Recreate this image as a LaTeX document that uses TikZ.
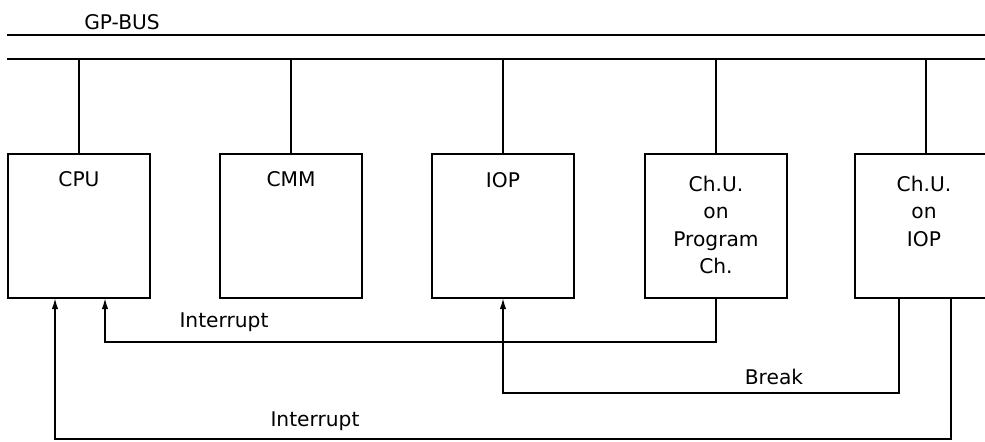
\documentclass[tikz,border=0pt]{standalone}
\usepackage{fontspec}
\setmainfont{DejaVu Sans}
\usetikzlibrary{arrows.meta,positioning}
\tikzset{unitbox/.style={draw,rectangle,minimum width=2.84cm,minimum height=2.88cm,inner sep=0},
    boxtext/.style={anchor=north,inner sep=0,align=center,font=\fontsize{11.5}{15.4}\selectfont},
    sigtext/.style={inner sep=0,font=\fontsize{11.5}{14}\selectfont},
    sigarrow/.style={-{Latex[length=6pt,width=3.6pt]}}}
\begin{document}
\begin{tikzpicture}[x=0.02cm,y=-0.02cm,line width=0.6pt]
\useasboundingbox (0,0) rectangle (985,441);
\clip (0,0) rectangle (985,441);

\node (gpbus) [sigtext] at (122,22) {GP-BUS};
\coordinate (busA) at (7,35);
\coordinate (busB) at (7,59);
\draw (busA) -- (busA -| 985,0);
\draw (busB) -- (busB -| 985,0);

\node (cpu) [unitbox] at (79,226) {};
\node (cmm) [unitbox] at (291,226) {};
\node (iop) [unitbox] at (503,226) {};
\node (chpc) [unitbox] at (716,226) {};
\node (chiop) [unitbox] at (926,226) {};

\node [boxtext] at (79,171) {CPU};
\node [boxtext] at (291,171) {CMM};
\node [boxtext] at (503,172) {IOP};
\node [boxtext] at (716,176) {Ch.U.\\on\\Program\\Ch.};
\node [boxtext] at (924,176) {Ch.U.\\on\\IOP};

\draw (busB -| cpu.north) -- (cpu.north);
\draw (busB -| cmm.north) -- (cmm.north);
\draw (busB -| iop.north) -- (iop.north);
\draw (busB -| chpc.north) -- (chpc.north);
\draw (busB -| chiop.north) -- (chiop.north);

\coordinate (int1) at (105,342);
\coordinate (brk) at (503,393);
\coordinate (int2) at (55,439);

\draw [sigarrow] (chpc.south) |- (int1) -- (int1 |- cpu.south);
\node (int1lbl) [sigtext] at (224,322) {Interrupt};

\draw [sigarrow] ([xshift=-0.54cm]chiop.south) |- (brk) -- (iop.south);
\node (brklbl) [sigtext] at (774,377) {Break};

\draw [sigarrow] ([xshift=0.5cm]chiop.south) |- (int2) -- (int2 |- cpu.south);
\node (int2lbl) [sigtext] at (315,421) {Interrupt};

\end{tikzpicture}
\end{document}
